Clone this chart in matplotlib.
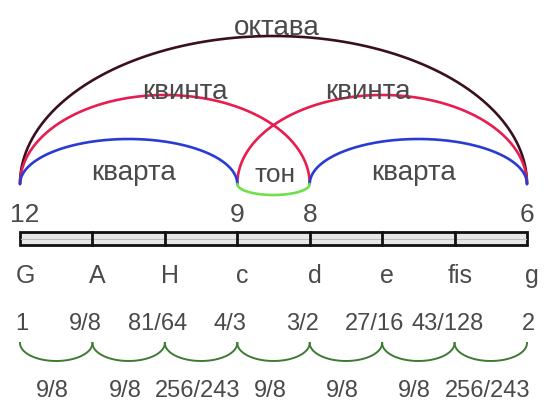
import matplotlib
matplotlib.use("Agg")
import matplotlib.pyplot as plt
import matplotlib.patches as mpatches
import numpy as np

plt.rcParams['font.family'] = ['Liberation Sans', 'DejaVu Sans']

# data
notes   = ["G", "A", "H", "c", "d", "e", "fis", "g"]
ratios  = ["1", "9/8", "81/64", "4/3", "3/2", "27/16", "43/128", "2"]
steps   = ["9/8", "9/8", "256/243", "9/8", "9/8", "9/8", "256/243"]
lengths = {0: "12", 3: "9", 4: "8", 7: "6"}

# интервалы: (от, до, название)
intervals = [
    (0, 7, "октава"),
    (0, 4, "квинта"),
    (3, 7, "квинта"),
    (0, 3, "кварта"),
    (4, 7, "кварта"),
    (3, 4, "тон"),
]

# styles
colors = {"октава": "#3a0f22", "квинта": "#e81c4e", "кварта": "#2a3bd4", "тон": "#6ee04c"}
heights = {"октава": 148, "квинта": 89, "кварта": 45, "тон": -11}
txt_col = "#4a4a4a"

W, H = 548, 402
x0, x1 = 20, 527
sp = (x1 - x0) / (len(notes) - 1)

fig = plt.figure(figsize=(W / 100, H / 100), dpi=100)
ax = fig.add_axes([0, 0, 1, 1])
ax.set_xlim(-x0 / sp, (W - x0) / sp)
ax.set_ylim(H, 0)
ax.axis("off")

base = 185
t = np.linspace(0, np.pi, 200)
for a, b, name in intervals:
    c = (a + b) / 2
    r = (b - a) / 2
    xs = c - r * np.cos(t)
    ys = base - heights[name] * np.sin(t)
    ax.plot(xs, ys, color=colors[name], lw=1.9, solid_capstyle="round", zorder=3)

# названия интервалов
ax.text(3.55, 35, "октава", ha="center", va="baseline", fontsize=20, color=txt_col)
ax.text(2.28, 99, "квинта", ha="center", va="baseline", fontsize=20, color=txt_col)
ax.text(4.8, 99, "квинта", ha="center", va="baseline", fontsize=20, color=txt_col)
ax.text(1.57, 180, "кварта", ha="center", va="baseline", fontsize=20, color=txt_col)
ax.text(5.43, 180, "кварта", ha="center", va="baseline", fontsize=20, color=txt_col)
ax.text(3.52, 182, "тон", ha="center", va="baseline", fontsize=19, color=txt_col)

# длины струны
for i, s in lengths.items():
    dx = 0.07 if i == 0 else 0.0
    ax.text(i + dx, 222, s, ha="center", va="baseline", fontsize=19, color=txt_col)

# струна
ax.add_patch(mpatches.Rectangle((0, 233), len(notes) - 1, 13, facecolor="#e8e8e8",
                                edgecolor="#111111", lw=2, zorder=2))
ax.plot([0.02, len(notes) - 1.02], [239.5, 239.5], color="#bdbdbd", lw=0.8, zorder=2)
for i in range(1, len(notes) - 1):
    ax.plot([i, i], [233, 246], color="#111111", lw=2, zorder=3)

# ноты и отношения
for i, (n, r) in enumerate(zip(notes, ratios)):
    ax.text(i + 0.07, 283, n, ha="center", va="baseline", fontsize=18, color=txt_col)
    ax.text(i - (0.1 if 0 < i < 7 else -0.02), 330, r, ha="center", va="baseline",
            fontsize=17, color=txt_col)

# шаги
for i, s in enumerate(steps):
    xs = i + 0.5 - 0.5 * np.cos(t)
    ys = 344 + 18 * np.sin(t)
    ax.plot(xs, ys, color="#3e7a34", lw=1.4, zorder=3)
    ax.text(i + 0.45, 397, s, ha="center", va="baseline", fontsize=17, color=txt_col)

fig.savefig("out.png", dpi=100, facecolor="white")
